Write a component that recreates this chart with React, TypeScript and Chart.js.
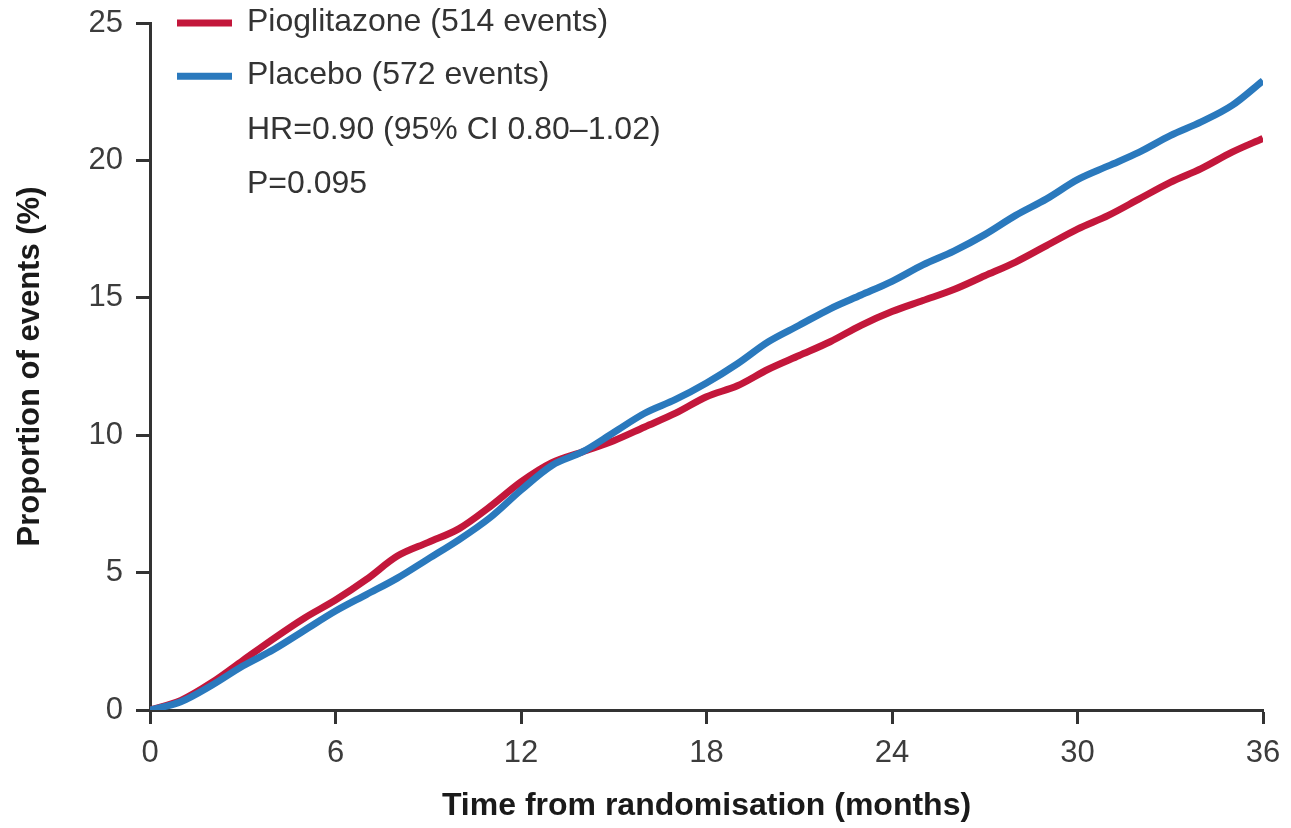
import { useEffect, useRef } from "react";
import { Chart, registerables } from "chart.js";

Chart.register(...registerables);

// Time since randomisation, months
const months = [
  0, 1, 2, 3, 4, 5, 6, 7, 8, 9, 10, 11, 12, 13, 14, 15, 16, 17, 18, 19, 20, 21,
  22, 23, 24, 25, 26, 27, 28, 29, 30, 31, 32, 33, 34, 35, 36,
];

// Cumulative proportion of events (%)
const pioglitazone = [
  0, 0.35, 1.0, 1.8, 2.6, 3.35, 4.0, 4.75, 5.6, 6.1, 6.6, 7.4, 8.3, 9.0, 9.4,
  9.8, 10.3, 10.8, 11.4, 11.8, 12.4, 12.9, 13.4, 14.0, 14.5, 14.9, 15.3, 15.8,
  16.3, 16.9, 17.5, 18.0, 18.6, 19.2, 19.7, 20.3, 20.8,
];
const placebo = [
  0, 0.3, 0.9, 1.6, 2.2, 2.9, 3.6, 4.2, 4.8, 5.5, 6.2, 7.0, 8.0, 8.9, 9.4, 10.1,
  10.8, 11.3, 11.9, 12.6, 13.4, 14.0, 14.6, 15.1, 15.6, 16.2, 16.7, 17.3, 18.0,
  18.6, 19.3, 19.8, 20.3, 20.9, 21.4, 22.0, 22.9,
];

const xTicks = [0, 6, 12, 18, 24, 30, 36];
const yTicks = [0, 5, 10, 15, 20, 25];

const seriesLabels = ["Pioglitazone (514 events)", "Placebo (572 events)"];
const seriesColors = ["#c3173b", "#2a79bd"];
const statsLines = ["HR=0.90 (95% CI 0.80\u20131.02)", "P=0.095"];

const xTitle = "Time from randomisation (months)";
const yTitle = "Proportion of events (%)";

const FONT = "'Liberation Sans', Arial, Helvetica, sans-serif";

// Key drawn inside the plot area, top-left, followed by the statistics lines
const keyPlugin = {
  id: "insetKey",
  afterDraw(chart: Chart) {
    const { ctx, chartArea } = chart;
    const lineX0 = chartArea.left + 27;
    const lineX1 = chartArea.left + 82;
    const textX = chartArea.left + 97;
    const rowY = (i: number) => chartArea.top - 1 + i * 53.3;
    ctx.save();
    ctx.font = `32px ${FONT}`;
    ctx.textBaseline = "middle";
    ctx.textAlign = "left";
    seriesLabels.forEach((label, i) => {
      const y = rowY(i);
      ctx.strokeStyle = seriesColors[i];
      ctx.lineWidth = 7;
      ctx.lineCap = "butt";
      ctx.beginPath();
      ctx.moveTo(lineX0, y + 1);
      ctx.lineTo(lineX1, y + 1);
      ctx.stroke();
      ctx.fillStyle = "#333333";
      ctx.fillText(label, textX, y);
    });
    statsLines.forEach((text, j) => {
      ctx.fillStyle = "#333333";
      ctx.fillText(text, textX, rowY(seriesLabels.length + j) + 2);
    });
    ctx.restore();
  },
};

export default function App() {
  const canvasRef = useRef<HTMLCanvasElement | null>(null);

  useEffect(() => {
    const canvas = canvasRef.current;
    if (!canvas) return;

    const toPoints = (ys: number[]) => months.map((m, i) => ({ x: m, y: ys[i] }));

    const axisColor = "#333333";

    const chart = new Chart(canvas, {
      type: "line",
      data: {
        datasets: [
          {
            label: seriesLabels[0],
            data: toPoints(pioglitazone),
            borderColor: seriesColors[0],
            backgroundColor: seriesColors[0],
            borderWidth: 7,
            pointRadius: 0,
            cubicInterpolationMode: "monotone",
            order: 1,
          },
          {
            label: seriesLabels[1],
            data: toPoints(placebo),
            borderColor: seriesColors[1],
            backgroundColor: seriesColors[1],
            borderWidth: 7,
            pointRadius: 0,
            cubicInterpolationMode: "monotone",
            order: 0,
          },
        ],
      },
      options: {
        responsive: false,
        animation: false,
        devicePixelRatio: 1,
        layout: { padding: { left: 0, top: 23, right: 28, bottom: 0 } },
        plugins: {
          legend: { display: false },
          tooltip: { enabled: false },
        },
        scales: {
          x: {
            type: "linear",
            min: 0,
            max: 36,
            afterBuildTicks: (scale: any) => {
              scale.ticks = xTicks.map((v) => ({ value: v }));
            },
            afterFit: (scale: any) => {
              scale.height = 118;
              scale.paddingLeft = 0;
              scale.paddingRight = 0;
            },
            grid: {
              display: true,
              drawOnChartArea: false,
              drawTicks: true,
              tickLength: 14,
              tickWidth: 3,
              tickColor: axisColor,
            },
            border: { display: true, color: axisColor, width: 3 },
            ticks: {
              color: "#3c3c3c",
              font: { family: FONT, size: 31 },
              padding: 11,
              maxRotation: 0,
              autoSkip: false,
            },
            title: {
              display: true,
              text: xTitle,
              color: "#1a1a1a",
              font: { family: FONT, size: 32, weight: "bold" },
              padding: { top: 0, bottom: 3 },
            },
          },
          y: {
            type: "linear",
            min: 0,
            max: 25,
            afterBuildTicks: (scale: any) => {
              scale.ticks = yTicks.map((v) => ({ value: v }));
            },
            afterFit: (scale: any) => {
              scale.width = 150;
              scale.paddingTop = 0;
              scale.paddingBottom = 0;
            },
            grid: {
              display: true,
              drawOnChartArea: false,
              drawTicks: true,
              tickLength: 14,
              tickWidth: 3,
              tickColor: axisColor,
            },
            border: { display: true, color: axisColor, width: 3 },
            ticks: {
              color: "#3c3c3c",
              font: { family: FONT, size: 31 },
              padding: 13,
              autoSkip: false,
            },
            title: {
              display: true,
              text: yTitle,
              color: "#1a1a1a",
              font: { family: FONT, size: 31, weight: "bold" },
              padding: { top: 12, bottom: 0 },
            },
          },
        },
      },
      plugins: [keyPlugin],
    });

    return () => {
      chart.destroy();
    };
  }, []);

  return (
    <div
      style={{
        position: "fixed",
        left: 0,
        top: 0,
        width: 1291,
        height: 828,
        background: "#ffffff",
      }}
    >
      <canvas ref={canvasRef} width={1291} height={828} style={{ display: "block" }} />
    </div>
  );
}
